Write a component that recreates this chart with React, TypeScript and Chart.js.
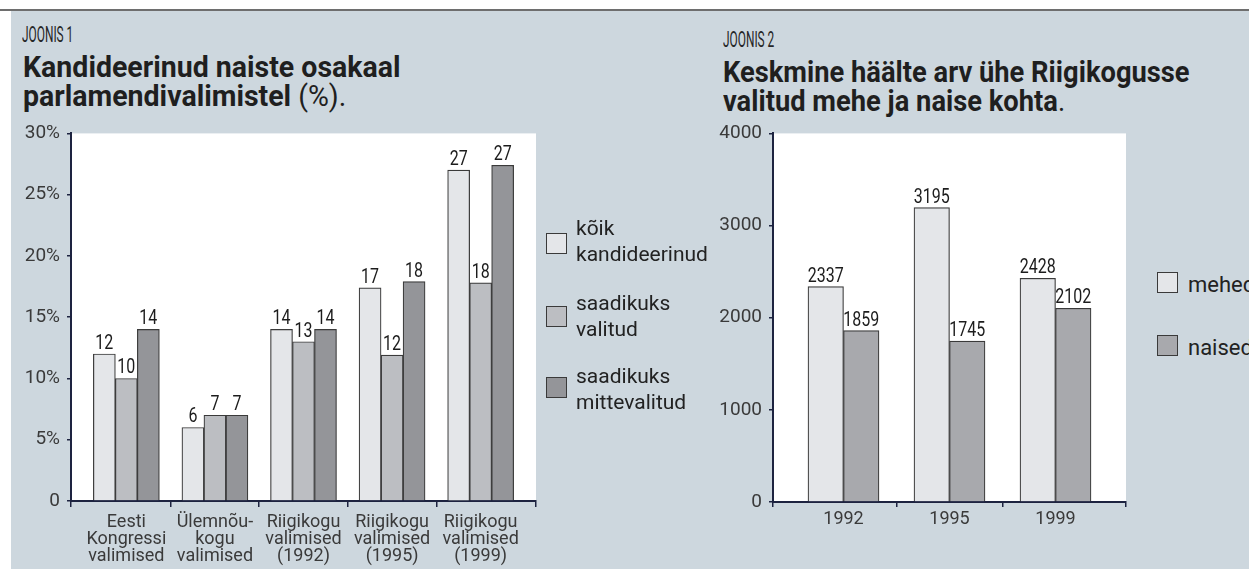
import React, { useEffect, useRef } from 'react';
import { Chart, registerables } from 'chart.js';

Chart.register(...registerables);

// ---------- data ----------
const categories1 = [
  ['Eesti', 'Kongressi', 'valimised'],
  ['Ülemnõu-', 'kogu', 'valimised'],
  ['Riigikogu', 'valimised', '(1992)'],
  ['Riigikogu', 'valimised', '(1995)'],
  ['Riigikogu', 'valimised', '(1999)'],
];
const koikKandideerinud = [12, 6, 14, 17.4, 27];
const saadikuksValitud = [10, 7, 13, 11.9, 17.8];
const saadikuksMittevalitud = [14, 7, 14, 17.9, 27.4];
const koikLabels = ['12', '6', '14', '17', '27'];
const valitudLabels = ['10', '7', '13', '12', '18'];
const mittevalitudLabels = ['14', '7', '14', '18', '27'];
const yTicks1 = [0, 5, 10, 15, 20, 25, 30];
const legend1 = [
  ['kõik', 'kandideerinud'],
  ['saadikuks', 'valitud'],
  ['saadikuks', 'mittevalitud'],
];

const years2 = ['1992', '1995', '1999'];
const mehed = [2337, 3195, 2428];
const naised = [1859, 1745, 2102];
const mehedLabels = ['2337', '3195', '2428'];
const naisedLabels = ['1859', '1745', '2102'];
const yTicks2 = [0, 1000, 2000, 3000, 4000];
const legend2 = ['mehed', 'naised'];

// ---------- style ----------
const FONT = "Roboto, 'Liberation Sans', Arial, sans-serif";
const PANEL = '#cdd7de';
const AXIS = '#1d2340';
const BORDER = '#3a3a3a';
const TICK = '#3a3a3a';
const C_LIGHT = '#e4e6e9';
const C_MID = '#bcbec2';
const C_DARK = '#949599';
const C_WOMEN = '#a8a9ad';

const plotBg = {
  id: 'plotBg',
  beforeDraw(chart: any) {
    const { ctx, chartArea } = chart;
    const { left, top, right, bottom } = chartArea;
    ctx.save();
    ctx.fillStyle = '#ffffff';
    ctx.fillRect(left, top, right - left, bottom - top);
    ctx.restore();
  },
};

function makeValueLabels(labels: string[][]) {
  return {
    id: 'valueLabels',
    afterDatasetsDraw(chart: any) {
      const { ctx } = chart;
      ctx.save();
      ctx.font = `400 20px ${FONT}`;
      ctx.fillStyle = '#1c1c1c';
      ctx.textAlign = 'center';
      ctx.textBaseline = 'alphabetic';
      chart.data.datasets.forEach((_ds: any, di: number) => {
        const meta = chart.getDatasetMeta(di);
        meta.data.forEach((el: any, i: number) => {
          ctx.save();
          ctx.translate(el.x, el.y - 5);
          ctx.scale(0.8, 1);
          ctx.fillText(labels[di][i], 0, 0);
          ctx.restore();
        });
      });
      ctx.restore();
    },
  };
}

function buildConfig(opts: {
  categories: (string | string[])[];
  series: number[][];
  colors: string[];
  names: string[];
  labels: string[][];
  yTicks: number[];
  yFormat: (v: number) => string;
  edge: number;
  barThickness: number;
  yWidth: number;
  xHeight: number;
  padRight: number;
  tickLen: number;
  tickPad: number;
}) {
  const n = opts.categories.length;
  const xMin = -opts.edge;
  const xMax = n - 1 + opts.edge;
  const xTicks: number[] = [xMin];
  for (let i = 0; i < n; i++) {
    xTicks.push(i);
    if (i < n - 1) xTicks.push(i + 0.5);
  }
  xTicks.push(xMax);
  const tickFont = { family: FONT, size: 18, weight: 400 as any, lineHeight: '17px' as any };
  return {
    type: 'bar' as const,
    data: {
      datasets: opts.series.map((vals, si) => ({
        label: opts.names[si],
        data: vals.map((y, i) => ({ x: i, y })),
        backgroundColor: opts.colors[si],
        borderColor: BORDER,
        borderWidth: 1.2,
        barThickness: opts.barThickness,
      })),
    },
    options: {
      responsive: false,
      animation: false as const,
      layout: { padding: { left: 0, top: 16, right: opts.padRight, bottom: 0 } },
      plugins: { legend: { display: false }, tooltip: { enabled: false }, title: { display: false } },
      scales: {
        x: {
          type: 'linear' as const,
          min: xMin,
          max: xMax,
          offset: false,
          afterBuildTicks: (s: any) => {
            s.ticks = xTicks.map((v) => ({ value: v }));
          },
          afterFit: (s: any) => {
            s.height = opts.xHeight;
          },
          grid: {
            display: true,
            drawOnChartArea: false,
            drawTicks: true,
            offset: false,
            tickLength: opts.tickLen,
            lineWidth: 1.5,
            tickColor: (c: any) =>
              c.tick && Number.isInteger(c.tick.value) ? 'rgba(0,0,0,0)' : AXIS,
          },
          border: { display: true, color: AXIS, width: 2 },
          ticks: {
            autoSkip: false,
            maxRotation: 0,
            minRotation: 0,
            padding: opts.tickPad,
            color: TICK,
            font: tickFont,
            callback: (v: any) => (Number.isInteger(v) ? opts.categories[v] : ''),
          },
        },
        y: {
          min: opts.yTicks[0],
          max: opts.yTicks[opts.yTicks.length - 1],
          afterBuildTicks: (s: any) => {
            s.ticks = opts.yTicks.map((v) => ({ value: v }));
          },
          afterFit: (s: any) => {
            s.width = opts.yWidth;
          },
          grid: {
            display: true,
            drawOnChartArea: false,
            drawTicks: true,
            tickLength: 4,
            lineWidth: 1.5,
            tickColor: AXIS,
          },
          border: { display: true, color: AXIS, width: 2 },
          ticks: {
            padding: 7,
            color: TICK,
            font: { family: FONT, size: 19, weight: 400 as any },
            callback: (v: any) => opts.yFormat(v),
          },
        },
      },
    },
    plugins: [plotBg, makeValueLabels(opts.labels)],
  };
}

function ChartCanvas({ left, top, width, height, make }: any) {
  const ref = useRef<HTMLCanvasElement | null>(null);
  useEffect(() => {
    if (!ref.current) return;
    const chart = new Chart(ref.current, make() as any);
    return () => chart.destroy();
  }, []);
  return (
    <canvas
      ref={ref}
      width={width}
      height={height}
      style={{ position: 'absolute', left, top, width, height, display: 'block' }}
    />
  );
}

const abs = (s: React.CSSProperties): React.CSSProperties => ({
  position: 'absolute',
  fontFamily: FONT,
  whiteSpace: 'nowrap',
  margin: 0,
  ...s,
});

function Joonis({ left, top, text }: any) {
  return (
    <div
      style={abs({
        left,
        top,
        fontSize: 22,
        lineHeight: '22px',
        color: '#262626',
        transform: 'scaleX(0.54)',
        transformOrigin: 'left top',
      })}
    >
      {text}
    </div>
  );
}

function Title({ left, top, line1, line2, tail, squeeze }: any) {
  return (
    <div
      style={abs({
        left,
        top,
        fontSize: 30,
        lineHeight: '29px',
        color: '#1f1f1f',
        transform: `scaleX(${squeeze})`,
        transformOrigin: 'left top',
      })}
    >
      <div style={{ fontWeight: 700 }}>{line1}</div>
      <div>
        <span style={{ fontWeight: 700 }}>{line2}</span>
        <span style={{ fontWeight: 400 }}>{tail}</span>
      </div>
    </div>
  );
}

function Swatch({ left, top, color }: any) {
  return (
    <div
      style={{
        position: 'absolute',
        left,
        top,
        width: 21,
        height: 21,
        boxSizing: 'border-box',
        border: `1.5px solid ${BORDER}`,
        background: color,
      }}
    />
  );
}

export default function App() {
  const leftColors = [C_LIGHT, C_MID, C_DARK];
  const leftSwatchTops = [233, 306, 377];
  const leftTextTops = [215, 290, 363];
  const rightColors = [C_LIGHT, C_WOMEN];
  const rightSwatchTops = [272, 335];
  const rightTextTops = [272, 335];

  return (
    <div
      style={{
        position: 'absolute',
        left: 0,
        top: 0,
        width: 1249,
        height: 569,
        overflow: 'hidden',
        background: '#ffffff',
      }}
    >
      <div style={{ position: 'absolute', left: 0, top: 9, width: 1249, height: 2, background: '#6e6e6e' }} />
      <div style={{ position: 'absolute', left: 11, top: 11, width: 1238, height: 558, background: PANEL }} />

      <Joonis left={22} top={24} text="JOONIS 1" />
      <Title
        left={23}
        top={52}
        line1="Kandideerinud naiste osakaal"
        line2="parlamendivalimistel"
        tail=" (%)."
        squeeze={0.95}
      />

      <Joonis left={723} top={29} text="JOONIS 2" />
      <Title
        left={723}
        top={57}
        line1="Keskmine häälte arv ühe Riigikogusse"
        line2="valitud mehe ja naise kohta"
        tail="."
        squeeze={0.91}
      />

      <ChartCanvas
        left={11}
        top={115}
        width={540}
        height={454}
        make={() =>
          buildConfig({
            categories: categories1,
            series: [koikKandideerinud, saadikuksValitud, saadikuksMittevalitud],
            colors: leftColors,
            names: legend1.map((l) => l.join(' ')),
            labels: [koikLabels, valitudLabels, mittevalitudLabels],
            yTicks: yTicks1,
            yFormat: (v) => (v === 0 ? '0' : `${v}%`),
            edge: 0.625,
            barThickness: 22,
            yWidth: 60,
            xHeight: 68,
            padRight: 15,
            tickLen: 6,
            tickPad: 7,
          })
        }
      />

      <ChartCanvas
        left={700}
        top={115}
        width={440}
        height={454}
        make={() =>
          buildConfig({
            categories: years2,
            series: [mehed, naised],
            colors: rightColors,
            names: legend2,
            labels: [mehedLabels, naisedLabels],
            yTicks: yTicks2,
            yFormat: (v) => `${v}`,
            edge: 0.665,
            barThickness: 35.5,
            yWidth: 73,
            xHeight: 67,
            padRight: 14,
            tickLen: 5,
            tickPad: 4,
          })
        }
      />

      {legend1.map((lines, i) => (
        <React.Fragment key={'l1' + i}>
          <Swatch left={546} top={leftSwatchTops[i]} color={leftColors[i]} />
          <div style={abs({ left: 576, top: leftTextTops[i], fontSize: 21, lineHeight: '26px', color: '#222' })}>
            {lines.map((t, j) => (
              <div key={j}>{t}</div>
            ))}
          </div>
        </React.Fragment>
      ))}

      {legend2.map((t, i) => (
        <React.Fragment key={'l2' + i}>
          <Swatch left={1157} top={rightSwatchTops[i]} color={rightColors[i]} />
          <div style={abs({ left: 1188, top: rightTextTops[i], fontSize: 22, lineHeight: '26px', color: '#222' })}>
            {t}
          </div>
        </React.Fragment>
      ))}
    </div>
  );
}
